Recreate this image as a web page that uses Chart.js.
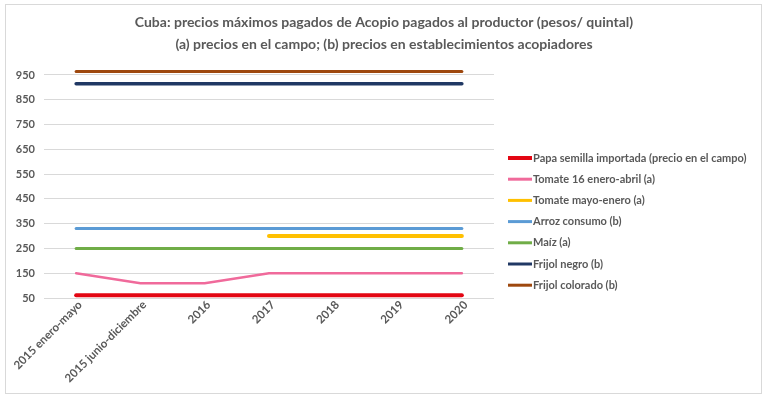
<!DOCTYPE html>
<html><head><meta charset="utf-8">
<script src="https://cdn.jsdelivr.net/npm/chart.js@4"></script>
<style>html,body{margin:0;padding:0;background:#fff}#wrap{width:765px;height:399px}</style>
</head><body><div id="wrap"><canvas id="c" width="765" height="399"></canvas></div>
<script>
const titleLines = ["Cuba: precios máximos pagados de Acopio pagados al productor (pesos/ quintal)", "(a) precios en el campo; (b) precios en establecimientos acopiadores"];
const categories = ["2015 enero-mayo", "2015 junio-diciembre", "2016", "2017", "2018", "2019", "2020"];
const papaSemilla = [61, 61, 61, 61, 61, 61, 61];
const tomate16 = [150, 110, 110, 150, 150, 150, 150];
const tomateMayo = [null, null, null, 300, 300, 300, 300];
const arroz = [330, 330, 330, 330, 330, 330, 330];
const maiz = [250, 250, 250, 250, 250, 250, 250];
const frijolNegro = [915, 915, 915, 915, 915, 915, 915];
const frijolColorado = [964, 964, 964, 964, 964, 964, 964];
const seriesLabels = ["Papa semilla importada (precio en el campo)", "Tomate 16 enero-abril (a)", "Tomate mayo-enero (a)", "Arroz consumo (b)", "Maíz (a)", "Frijol negro (b)", "Frijol colorado (b)"];
const yTickValues = [50, 150, 250, 350, 450, 550, 650, 750, 850, 950];

const colors = ["#E30613", "#F06A9B", "#FFC000", "#5B9BD5", "#70AD47", "#203864", "#9E480E"];
const widths = [4, 2.5, 4, 3, 3, 3.5, 3];
const dataArr = [papaSemilla, tomate16, tomateMayo, arroz, maiz, frijolNegro, frijolColorado];
const textColor = "#595959";
const FONT = "Lato, 'Open Sans', sans-serif";

const datasets = dataArr.map((d, i) => ({
  label: seriesLabels[i], data: d, borderColor: colors[i], backgroundColor: colors[i],
  borderWidth: widths[i], pointRadius: 0, pointHoverRadius: 0, tension: 0, fill: false,
  borderCapStyle: 'round', spanGaps: false
}));
datasets.forEach((d, i) => d.order = dataArr.length - i);

const decor = {
  id: 'decor',
  beforeDraw(chart) {
    const ctx = chart.ctx;
    ctx.save();
    ctx.fillStyle = '#fff';
    ctx.fillRect(0, 0, chart.width, chart.height);
    ctx.strokeStyle = '#D9D9D9';
    ctx.lineWidth = 1;
    ctx.strokeRect(5.5, 4.5, 756, 389);
    ctx.restore();
  },
  afterDraw(chart) {
    const ctx = chart.ctx;
    ctx.save();
    ctx.fillStyle = textColor;
    ctx.textAlign = 'center';
    ctx.textBaseline = 'middle';
    ctx.font = "bold 14px " + FONT;
    ctx.fillText(titleLines[0], 384, 22);
    ctx.fillText(titleLines[1], 384, 44);
    ctx.textAlign = 'left';
    ctx.font = "bold 11px " + FONT;
    chart.data.datasets.forEach((ds, i) => {
      const y = 158 + i * 21.2;
      ctx.strokeStyle = ds.borderColor;
      ctx.lineWidth = i === 0 ? 4 : 3;
      ctx.lineCap = 'butt';
      ctx.beginPath(); ctx.moveTo(508, y); ctx.lineTo(532, y); ctx.stroke();
      ctx.fillStyle = textColor;
      ctx.fillText(ds.label, 533, y);
    });
    ctx.restore();
  }
};

new Chart(document.getElementById('c'), {
  type: 'line',
  data: { labels: categories, datasets },
  plugins: [decor],
  options: {
    responsive: false, animation: false, devicePixelRatio: 1,
    layout: { padding: { left: 0, right: 271, top: 62.6, bottom: 0 } },
    plugins: { legend: { display: false }, title: { display: false }, tooltip: { enabled: false } },
    scales: {
      x: {
        offset: true,
        grid: { display: false, drawTicks: false },
        border: { display: false },
        afterFit(s) { s.height = 101; },
        ticks: { color: textColor, font: { family: FONT, size: 11.5, weight: 'bold' }, maxRotation: 45, minRotation: 45, padding: 0, labelOffset: 4, autoSkip: false }
      },
      y: {
        min: 50, max: 1000,
        afterFit(s) { s.width = 44; },
        afterBuildTicks(s) { s.ticks = yTickValues.map(v => ({ value: v })); },
        grid: { color: '#D9D9D9', lineWidth: 1, drawTicks: false },
        border: { display: false },
        ticks: { color: textColor, font: { family: FONT, size: 11, weight: 'bold' }, padding: 9 }
      }
    }
  }
});
</script>
</body></html>
